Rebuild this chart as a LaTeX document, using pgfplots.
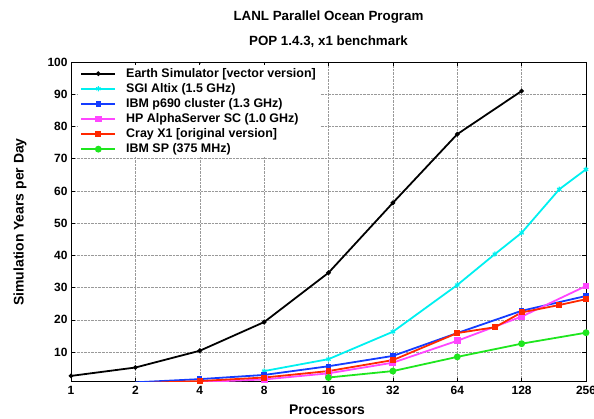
\documentclass[border=0pt]{standalone}
\usepackage{pgfplots}
\pgfplotsset{compat=1.18}
\usepackage{fontspec}
\setmainfont{Liberation Sans}
\definecolor{cES}{RGB}{0,0,0}
\definecolor{cSGI}{RGB}{0,240,240}
\definecolor{cIBM}{RGB}{20,60,255}
\definecolor{cHP}{RGB}{255,70,255}
\definecolor{cCray}{RGB}{255,40,0}
\definecolor{cSP}{RGB}{30,230,30}
\begin{document}
\begin{tikzpicture}[x=1bp,y=1bp]
\begin{axis}[
  at={(71bp,36.3bp)}, anchor=south west,
  scale only axis, width=515bp, height=319.7bp,
  xmode=log, log basis x=2,
  xmin=1, xmax=256, ymin=0.8, ymax=100,
  xtick={1,2,4,8,16,32,64,128,256},
  xticklabels={1,2,4,8,16,32,64,128,256},
  ytick={10,20,30,40,50,60,70,80,90,100},
  yticklabels={10,20,30,40,50,60,70,80,90,100},
  tick label style={font=\bfseries\fontsize{12}{14}\selectfont},
  /pgf/number format/assume math mode=true,
  xticklabel style={yshift=-1bp},
  grid=major,
  major grid style={densely dotted, gray!80, line width=0.5pt},
  axis line style={line width=0.8pt},
  tick style={black, line width=0.6pt},
  major tick length=4bp,
  every axis plot/.append style={line width=1.8pt},
  legend style={at={(0.014,0.99)}, anchor=north west, draw=none, fill=white,
    font=\bfseries\fontsize{12.5}{14}\selectfont, row sep=0.6bp, column sep=8bp,
    inner xsep=2bp, inner ysep=1bp},
  legend cell align=left,
  legend image code/.code={\draw[mark repeat=2,mark phase=2] plot coordinates {(0cm,0cm)(0.6cm,0cm)(1.2cm,0cm)};},
  clip=true,
]
\addplot[cES, mark=*, mark size=1.3pt] coordinates {
 (1,2.6) (2,5.2) (4,10.4) (8,19.3) (16,34.6) (32,56.3) (64,77.6) (128,91.0)};
\addlegendentry{Earth Simulator [vector version]}
\addplot[cSGI, mark=asterisk, mark size=2.6pt, mark options={line width=1.1pt}] coordinates {
 (8,4.1) (16,7.8) (32,16.3) (64,30.8) (96,40.4) (128,47.0) (192,60.5) (256,66.7)};
\addlegendentry{SGI Altix (1.5 GHz)}
\addplot[cIBM, mark=square*, mark size=1.8pt] coordinates {
 (2,0.6) (4,1.6) (8,2.9) (16,5.6) (32,8.8) (64,15.9) (128,22.8) (256,27.4)};
\addlegendentry{IBM p690 cluster (1.3 GHz)}
\addplot[cHP, mark=square*, mark size=2.5pt] coordinates {
 (2,0.2) (4,0.7) (8,1.5) (16,3.4) (32,6.7) (64,13.5) (128,21.0) (256,30.5)};
\addlegendentry{HP AlphaServer SC (1.0 GHz)}
\addplot[cCray, mark=square*, mark size=2.1pt] coordinates {
 (2,0.3) (4,1.0) (8,2.1) (16,4.1) (32,7.5) (64,15.9) (96,17.7) (128,22.3) (192,24.6) (256,26.4)};
\addlegendentry{Cray X1 [original version]}
\addplot[cSP, mark=*, mark size=2.5pt] coordinates {
 (16,2.1) (32,4.1) (64,8.5) (128,12.6) (256,16.0)};
\addlegendentry{IBM SP (375 MHz)}
\end{axis}
\node[font=\bfseries\fontsize{13.4}{15}\selectfont] at (328.5,401) {LANL Parallel Ocean Program};
\node[font=\bfseries\fontsize{13.4}{15}\selectfont] at (328.5,376) {POP 1.4.3, x1 benchmark};
\node[font=\bfseries\fontsize{14}{16}\selectfont, rotate=90] at (20,196) {Simulation Years per Day};
\node[font=\bfseries\fontsize{14}{16}\selectfont] at (327,8) {Processors};
\pgfresetboundingbox
\path[use as bounding box] (0,0) rectangle (594,418);
\end{tikzpicture}
\end{document}
